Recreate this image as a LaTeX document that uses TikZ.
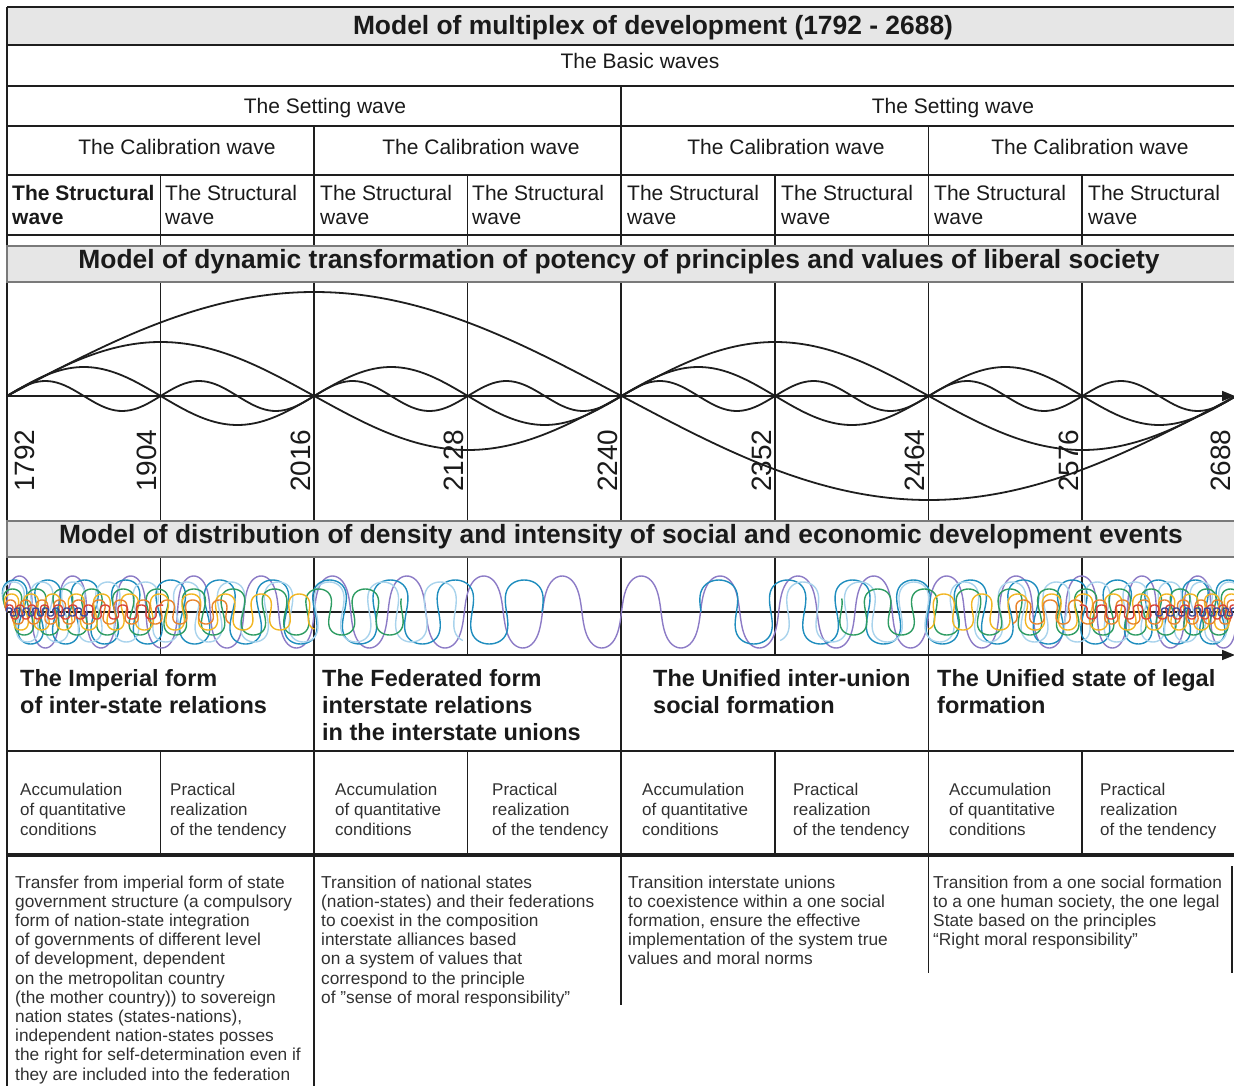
\documentclass[tikz,border=0pt]{standalone}
\usepackage{fontspec}
\setmainfont{Liberation Sans}
\usetikzlibrary{arrows.meta}
\definecolor{linec}{HTML}{1E1E1E}
\definecolor{bandc}{HTML}{E6E6E6}
\definecolor{bandline}{HTML}{7A7A7A}
\definecolor{txt}{HTML}{1A1A1A}
\definecolor{cpur}{HTML}{8C7BC6}
\definecolor{cteal}{HTML}{1F8DBE}
\definecolor{clblue}{HTML}{A9D3EC}
\definecolor{cgreen}{HTML}{2E9C62}
\definecolor{cyel}{HTML}{F2B622}
\definecolor{corange}{HTML}{E8842C}
\definecolor{cred}{HTML}{D8423A}
\definecolor{cnavy}{HTML}{3A4A9E}
% #1 colour, #2 start x, #3 direction, #4 length, #5 cycles, #6 alpha, #7 overhang, #8 amplitude
\newcommand{\mycoil}[8]{%
  \pgfmathsetmacro{\cdom}{#5*360}%
  \pgfmathtruncatemacro{\cns}{#5*60+2}%
  \draw[coilline, draw=#1] plot[domain=0:\cdom, samples=\cns]
    ({#2 + #3*(#4*(#6*(\x/\cdom) + (1-#6)*(\x/\cdom)*(\x/\cdom)) - #7*sin(2*\x))}, {612 - #8*sin(\x)});%
}
\begin{document}
\begin{tikzpicture}[x=1pt,y=-1pt,
  gl/.style={draw=linec, line width=1.7pt},
  thickline/.style={draw=linec, line width=4pt},
  bandbox/.style={fill=bandc, draw=bandline, line width=1.3pt},
  wave/.style={draw=linec, line width=1.8pt},
  coilline/.style={line width=1.4pt},
  hd/.style={font=\fontsize{26.4}{30}\selectfont\bfseries, text=txt, inner sep=0pt, anchor=base},
  lbl/.style={font=\fontsize{21}{24}\selectfont, text=txt, inner sep=0pt},
  yr/.style={font=\fontsize{28}{30}\selectfont, text=txt, inner sep=0pt, rotate=90, anchor=base west},
  btitle/.style={font=\fontsize{23.5}{27}\selectfont\bfseries, text=txt, inner sep=0pt, anchor=north west, align=left},
  small/.style={font=\fontsize{17}{20}\selectfont, text=txt!90, inner sep=0pt, anchor=north west, align=left},
  desc/.style={font=\fontsize{17.3}{19.2}\selectfont, text=txt!90, inner sep=0pt, anchor=north west, align=left},
  arr/.style={-{Triangle[length=13pt,width=10pt]}}
]
\useasboundingbox (0,0) rectangle (1234,1086);
\clip (0,0) rectangle (1234,1086);

% title row background
\fill[bandc] (7,7) rectangle (1240,45);

% horizontal grid lines
\foreach \yy in {7,45,86,126,175,235,751}
  \draw[gl] (7,\yy) -- (1240,\yy);
\draw[thickline] (7,855) -- (1240,855);
\draw[gl] (7,612) -- (1240,612);

% vertical grid lines
\draw[gl] (7,7) -- (7,1086);
\draw[gl] (621,86) -- (621,1005);
\draw[gl] (314,126) -- (314,1086);
\draw[gl] (928.5,126) -- (928.5,973);
\foreach \xx in {160.5,467.5,775,1082} {
  \draw[gl] (\xx,175) -- (\xx,655);
  \draw[gl] (\xx,751) -- (\xx,855);
}
\draw[gl] (1232,866) -- (1232,973);

% gray bands
\filldraw[bandbox] (7,246) rectangle (1240,282);
\filldraw[bandbox] (7,521) rectangle (1240,557);

% axes
\draw[gl, arr] (7,396) -- (1235,396);
\draw[gl, arr] (7,655) -- (1235,655);

% dynamic waves
\foreach \A/\P in {104/1229, 54/614.5, 29/307.25, 15/153.625}
  \draw[wave] plot[domain=7:1236, samples=320] (\x, {396 - \A*sin((\x-7)/\P*360)});

% distribution coils
\draw[coilline, draw=cpur] plot[domain=-1:1, samples=1100]
  ({621.5 + 614.5*(0.72*\x + 0.28*sin(90*\x)) - 4*sin(2*(\x+1)*3240)}, {612 - 36*sin((\x+1)*3240)});
\mycoil{cteal}{7}{1}{535}{10.5}{0.59}{8}{32}
\mycoil{cteal}{1236}{-1}{535}{10.5}{0.59}{8}{32}
\mycoil{clblue}{7}{1}{460}{10.7}{0.6}{7}{30}
\mycoil{clblue}{1236}{-1}{460}{10.7}{0.6}{7}{30}
\mycoil{cgreen}{7}{1}{400}{11.1}{0.61}{6}{23}
\mycoil{cgreen}{1236}{-1}{400}{11.1}{0.61}{6}{23}
\mycoil{cyel}{7}{1}{310}{10.7}{0.62}{4.5}{18}
\mycoil{cyel}{1236}{-1}{310}{10.7}{0.62}{4.5}{18}
\mycoil{corange}{7}{1}{225}{10.7}{0.67}{3.2}{12}
\mycoil{corange}{1236}{-1}{225}{10.7}{0.67}{3.2}{12}
\mycoil{cred}{7}{1}{155}{10.3}{0.66}{2}{7}
\mycoil{cred}{1236}{-1}{155}{10.3}{0.66}{2}{7}
\mycoil{cnavy}{7}{1}{80}{8}{0.8}{1.4}{4}
\mycoil{cnavy}{1236}{-1}{80}{8}{0.8}{1.4}{4}

% header texts
\node[hd] (title) at (653,35) {Model of multiplex of development (1792 - 2688)};
\node[lbl, anchor=base] (basic) at (640,69) {The Basic waves};
\node[lbl, anchor=base] (set1) at (325,114) {The Setting wave};
\node[lbl, anchor=base] (set2) at (953,114) {The Setting wave};
\node[lbl, anchor=base] (cal1) at (177,155) {The Calibration wave};
\node[lbl, anchor=base] (cal2) at (481,155) {The Calibration wave};
\node[lbl, anchor=base] (cal3) at (786,155) {The Calibration wave};
\node[lbl, anchor=base] (cal4) at (1090,155) {The Calibration wave};

\node[lbl, anchor=north west, align=left] (st1) at (12,184.7) {\textbf{The Structural}\\\textbf{wave}};
\foreach \xx/\nm in {165/st2,320/st3,472/st4,627/st5,781/st6,934/st7,1088/st8}
  \node[lbl, anchor=north west, align=left] (\nm) at (\xx,184.7) {The Structural\\wave};

\node[hd] (dyn) at (619,268) {Model of dynamic transformation of potency of principles and values of liberal society};
\node[hd] (dist) at (621,543) {Model of distribution of density and intensity of social and economic development events};

% years
\node[yr] (y1792) at (34,492) {1792};
\foreach \xx/\yv in {156.5/1904,310/2016,463.5/2128,617/2240,771/2352,924.5/2464,1078/2576,1230/2688}
  \node[yr] (y\yv) at (\xx,492) {\yv};

% form titles
\node[btitle] (f1) at (20,668.8) {The Imperial form\\of inter-state relations};
\node[btitle] (f2) at (322,668.8) {The Federated form\\interstate relations\\in the interstate unions};
\node[btitle] (f3) at (653,668.8) {The Unified inter-union\\social formation};
\node[btitle] (f4) at (937,668.8) {The Unified state of legal\\formation};

% phases
\foreach \xa/\xb/\k in {20/170/1, 335/492/2, 642/793/3, 949/1100/4} {
  \node[small] (acc\k) at (\xa,782.6) {Accumulation\\of quantitative\\conditions};
  \node[small] (pr\k) at (\xb,782.6) {Practical\\realization\\of the tendency};
}

% descriptions
\node[desc] (d1) at (15,875.4) {Transfer from imperial form of state\\government structure (a compulsory\\form of nation-state integration\\of governments of different level\\of development, dependent\\on the metropolitan country\\(the mother country)) to sovereign\\nation states (states-nations),\\independent nation-states posses\\the right for self-determination even if\\they are included into the federation};
\node[desc] (d2) at (321,875.4) {Transition of national states\\(nation-states) and their federations\\to coexist in the composition\\interstate alliances based\\on a system of values that\\correspond to the principle\\of "sense of moral responsibility"};
\node[desc] (d3) at (628,875.4) {Transition interstate unions\\to coexistence within a one social\\formation, ensure the effective\\implementation of the system true\\values and moral norms};
\node[desc] (d4) at (933,875.4) {Transition from a one social formation\\to a one human society, the one legal\\State based on the principles\\“Right moral responsibility”};
\end{tikzpicture}
\end{document}
